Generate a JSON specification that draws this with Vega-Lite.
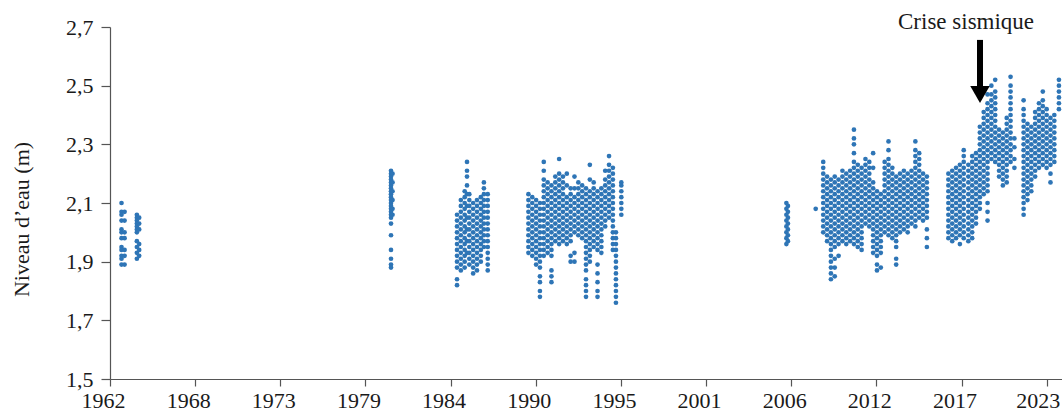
{
"$schema":"https://vega.github.io/schema/vega-lite/v6.json",
"width":952,"height":352,
"autosize":{"type":"none"},
"padding":{"left":110,"top":27,"right":0,"bottom":36},
"background":"white",
"config":{"view":{"stroke":null},"font":"Liberation Serif"},
"layer":[
{"data":{"values":[
{"t":1962.75,"v":2.10},{"t":1962.75,"v":2.07},{"t":1962.75,"v":2.06},{"t":1962.75,"v":2.04},{"t":1962.75,"v":2.01},{"t":1962.75,"v":2.00},{"t":1962.75,"v":1.98},{"t":1962.75,"v":1.95},{"t":1962.75,"v":1.94},{"t":1962.75,"v":1.92},{"t":1962.75,"v":1.91},{"t":1962.75,"v":1.89},
{"t":1962.95,"v":2.07},{"t":1962.95,"v":2.04},{"t":1962.95,"v":2.00},{"t":1962.95,"v":1.98},{"t":1962.95,"v":1.94},{"t":1962.95,"v":1.92},{"t":1962.95,"v":1.89},
{"t":1963.75,"v":2.06},{"t":1963.75,"v":2.05},{"t":1963.75,"v":2.04},{"t":1963.75,"v":2.03},{"t":1963.75,"v":2.02},{"t":1963.75,"v":2.01},{"t":1963.75,"v":2.00},{"t":1963.75,"v":1.97},{"t":1963.75,"v":1.95},{"t":1963.75,"v":1.93},{"t":1963.75,"v":1.91},
{"t":1963.9,"v":2.05},{"t":1963.9,"v":2.03},{"t":1963.9,"v":2.01},{"t":1963.9,"v":1.96},{"t":1963.9,"v":1.94},{"t":1963.9,"v":1.92},
{"t":1980.3,"v":2.21},{"t":1980.3,"v":2.20},{"t":1980.3,"v":2.19},{"t":1980.3,"v":2.18},{"t":1980.3,"v":2.17},{"t":1980.3,"v":2.16},{"t":1980.3,"v":2.15},{"t":1980.3,"v":2.14},{"t":1980.3,"v":2.13},{"t":1980.3,"v":2.12},{"t":1980.3,"v":2.11},{"t":1980.3,"v":2.10},{"t":1980.3,"v":2.09},{"t":1980.3,"v":2.08},{"t":1980.3,"v":2.07},{"t":1980.3,"v":2.06},{"t":1980.3,"v":2.05},{"t":1980.3,"v":2.03},{"t":1980.3,"v":1.99},{"t":1980.3,"v":1.94},{"t":1980.3,"v":1.91},{"t":1980.3,"v":1.89},{"t":1980.3,"v":1.88},
{"t":1980.4,"v":2.20},{"t":1980.4,"v":2.17},{"t":1980.4,"v":2.14},{"t":1980.4,"v":2.11},{"t":1980.4,"v":2.08},{"t":1980.4,"v":2.06},
{"t":1984.6,"v":1.82},{"t":1984.6,"v":1.84},{"t":1984.6,"v":1.88},{"t":1984.6,"v":1.90},{"t":1984.6,"v":1.92},{"t":1984.6,"v":1.94},{"t":1984.6,"v":1.96},{"t":1984.6,"v":1.98},{"t":1984.6,"v":2.00},{"t":1984.6,"v":2.02},{"t":1984.6,"v":2.04},{"t":1984.6,"v":2.06},
{"t":1984.85,"v":1.87},{"t":1984.85,"v":1.89},{"t":1984.85,"v":1.91},{"t":1984.85,"v":1.93},{"t":1984.85,"v":1.95},{"t":1984.85,"v":1.97},{"t":1984.85,"v":1.99},{"t":1984.85,"v":2.01},{"t":1984.85,"v":2.03},{"t":1984.85,"v":2.05},{"t":1984.85,"v":2.07},{"t":1984.85,"v":2.09},{"t":1984.85,"v":2.11},
{"t":1985.1,"v":1.88},{"t":1985.1,"v":1.90},{"t":1985.1,"v":1.92},{"t":1985.1,"v":1.94},{"t":1985.1,"v":1.96},{"t":1985.1,"v":1.98},{"t":1985.1,"v":2.00},{"t":1985.1,"v":2.02},{"t":1985.1,"v":2.04},{"t":1985.1,"v":2.06},{"t":1985.1,"v":2.08},{"t":1985.1,"v":2.10},{"t":1985.1,"v":2.12},{"t":1985.1,"v":2.14},
{"t":1985.25,"v":1.93},{"t":1985.25,"v":1.97},{"t":1985.25,"v":2.01},{"t":1985.25,"v":2.05},{"t":1985.25,"v":2.09},{"t":1985.25,"v":2.13},{"t":1985.25,"v":2.16},{"t":1985.25,"v":2.19},{"t":1985.25,"v":2.21},{"t":1985.25,"v":2.24},
{"t":1985.4,"v":1.89},{"t":1985.4,"v":1.91},{"t":1985.4,"v":1.93},{"t":1985.4,"v":1.95},{"t":1985.4,"v":1.97},{"t":1985.4,"v":1.99},{"t":1985.4,"v":2.01},{"t":1985.4,"v":2.03},{"t":1985.4,"v":2.05},{"t":1985.4,"v":2.07},{"t":1985.4,"v":2.09},{"t":1985.4,"v":2.11},{"t":1985.4,"v":2.13},
{"t":1985.65,"v":1.86},{"t":1985.65,"v":1.88},{"t":1985.65,"v":1.90},{"t":1985.65,"v":1.92},{"t":1985.65,"v":1.94},{"t":1985.65,"v":1.96},{"t":1985.65,"v":1.98},{"t":1985.65,"v":2.00},{"t":1985.65,"v":2.02},{"t":1985.65,"v":2.04},{"t":1985.65,"v":2.06},{"t":1985.65,"v":2.08},{"t":1985.65,"v":2.10},
{"t":1985.9,"v":1.87},{"t":1985.9,"v":1.89},{"t":1985.9,"v":1.91},{"t":1985.9,"v":1.93},{"t":1985.9,"v":1.95},{"t":1985.9,"v":1.97},{"t":1985.9,"v":1.99},{"t":1985.9,"v":2.01},{"t":1985.9,"v":2.03},{"t":1985.9,"v":2.05},{"t":1985.9,"v":2.07},{"t":1985.9,"v":2.09},{"t":1985.9,"v":2.11},
{"t":1986.15,"v":1.90},{"t":1986.15,"v":1.92},{"t":1986.15,"v":1.94},{"t":1986.15,"v":1.96},{"t":1986.15,"v":1.98},{"t":1986.15,"v":2.00},{"t":1986.15,"v":2.02},{"t":1986.15,"v":2.04},{"t":1986.15,"v":2.06},{"t":1986.15,"v":2.08},{"t":1986.15,"v":2.10},{"t":1986.15,"v":2.12},
{"t":1986.35,"v":1.95},{"t":1986.35,"v":1.97},{"t":1986.35,"v":1.99},{"t":1986.35,"v":2.01},{"t":1986.35,"v":2.03},{"t":1986.35,"v":2.05},{"t":1986.35,"v":2.07},{"t":1986.35,"v":2.09},{"t":1986.35,"v":2.11},{"t":1986.35,"v":2.13},{"t":1986.35,"v":2.15},{"t":1986.35,"v":2.17},
{"t":1986.6,"v":1.87},{"t":1986.6,"v":1.89},{"t":1986.6,"v":1.91},{"t":1986.6,"v":1.93},{"t":1986.6,"v":1.95},{"t":1986.6,"v":1.97},{"t":1986.6,"v":1.99},{"t":1986.6,"v":2.01},{"t":1986.6,"v":2.03},{"t":1986.6,"v":2.05},{"t":1986.6,"v":2.07},{"t":1986.6,"v":2.09},{"t":1986.6,"v":2.11},{"t":1986.6,"v":2.13},
{"t":1989.25,"v":1.93},{"t":1989.25,"v":1.95},{"t":1989.25,"v":1.97},{"t":1989.25,"v":1.99},{"t":1989.25,"v":2.01},{"t":1989.25,"v":2.03},{"t":1989.25,"v":2.05},{"t":1989.25,"v":2.07},{"t":1989.25,"v":2.09},{"t":1989.25,"v":2.11},{"t":1989.25,"v":2.13},
{"t":1989.5,"v":1.92},{"t":1989.5,"v":1.94},{"t":1989.5,"v":1.96},{"t":1989.5,"v":1.98},{"t":1989.5,"v":2.00},{"t":1989.5,"v":2.02},{"t":1989.5,"v":2.04},{"t":1989.5,"v":2.06},{"t":1989.5,"v":2.08},{"t":1989.5,"v":2.10},{"t":1989.5,"v":2.12},
{"t":1989.75,"v":1.89},{"t":1989.75,"v":1.91},{"t":1989.75,"v":1.93},{"t":1989.75,"v":1.95},{"t":1989.75,"v":1.97},{"t":1989.75,"v":1.99},{"t":1989.75,"v":2.01},{"t":1989.75,"v":2.03},{"t":1989.75,"v":2.05},{"t":1989.75,"v":2.07},{"t":1989.75,"v":2.09},{"t":1989.75,"v":2.11},
{"t":1990.0,"v":1.78},{"t":1990.0,"v":1.80},{"t":1990.0,"v":1.83},{"t":1990.0,"v":1.85},{"t":1990.0,"v":1.88},{"t":1990.0,"v":1.90},{"t":1990.0,"v":1.92},{"t":1990.0,"v":1.94},{"t":1990.0,"v":1.96},{"t":1990.0,"v":1.98},{"t":1990.0,"v":2.00},{"t":1990.0,"v":2.02},{"t":1990.0,"v":2.04},{"t":1990.0,"v":2.06},{"t":1990.0,"v":2.08},{"t":1990.0,"v":2.10},
{"t":1990.25,"v":1.92},{"t":1990.25,"v":1.94},{"t":1990.25,"v":1.96},{"t":1990.25,"v":1.98},{"t":1990.25,"v":2.00},{"t":1990.25,"v":2.02},{"t":1990.25,"v":2.04},{"t":1990.25,"v":2.06},{"t":1990.25,"v":2.08},{"t":1990.25,"v":2.10},{"t":1990.25,"v":2.12},{"t":1990.25,"v":2.14},{"t":1990.25,"v":2.16},{"t":1990.25,"v":2.18},{"t":1990.25,"v":2.21},{"t":1990.25,"v":2.24},
{"t":1990.5,"v":1.93},{"t":1990.5,"v":1.95},{"t":1990.5,"v":1.97},{"t":1990.5,"v":1.99},{"t":1990.5,"v":2.01},{"t":1990.5,"v":2.03},{"t":1990.5,"v":2.05},{"t":1990.5,"v":2.07},{"t":1990.5,"v":2.09},{"t":1990.5,"v":2.11},{"t":1990.5,"v":2.13},{"t":1990.5,"v":2.15},{"t":1990.5,"v":2.17},
{"t":1990.75,"v":1.83},{"t":1990.75,"v":1.85},{"t":1990.75,"v":1.87},{"t":1990.75,"v":1.92},{"t":1990.75,"v":1.94},{"t":1990.75,"v":1.96},{"t":1990.75,"v":1.98},{"t":1990.75,"v":2.00},{"t":1990.75,"v":2.02},{"t":1990.75,"v":2.04},{"t":1990.75,"v":2.06},{"t":1990.75,"v":2.08},{"t":1990.75,"v":2.10},{"t":1990.75,"v":2.12},{"t":1990.75,"v":2.14},{"t":1990.75,"v":2.16},
{"t":1991.0,"v":1.97},{"t":1991.0,"v":1.99},{"t":1991.0,"v":2.01},{"t":1991.0,"v":2.03},{"t":1991.0,"v":2.05},{"t":1991.0,"v":2.07},{"t":1991.0,"v":2.09},{"t":1991.0,"v":2.11},{"t":1991.0,"v":2.13},{"t":1991.0,"v":2.15},{"t":1991.0,"v":2.17},{"t":1991.0,"v":2.19},
{"t":1991.25,"v":1.96},{"t":1991.25,"v":1.98},{"t":1991.25,"v":2.00},{"t":1991.25,"v":2.02},{"t":1991.25,"v":2.04},{"t":1991.25,"v":2.06},{"t":1991.25,"v":2.08},{"t":1991.25,"v":2.10},{"t":1991.25,"v":2.12},{"t":1991.25,"v":2.14},{"t":1991.25,"v":2.16},{"t":1991.25,"v":2.18},{"t":1991.25,"v":2.20},{"t":1991.25,"v":2.25},
{"t":1991.5,"v":1.97},{"t":1991.5,"v":1.99},{"t":1991.5,"v":2.01},{"t":1991.5,"v":2.03},{"t":1991.5,"v":2.05},{"t":1991.5,"v":2.07},{"t":1991.5,"v":2.09},{"t":1991.5,"v":2.11},{"t":1991.5,"v":2.13},{"t":1991.5,"v":2.15},{"t":1991.5,"v":2.17},{"t":1991.5,"v":2.19},
{"t":1991.75,"v":1.96},{"t":1991.75,"v":1.98},{"t":1991.75,"v":2.00},{"t":1991.75,"v":2.02},{"t":1991.75,"v":2.04},{"t":1991.75,"v":2.06},{"t":1991.75,"v":2.08},{"t":1991.75,"v":2.10},{"t":1991.75,"v":2.12},{"t":1991.75,"v":2.16},{"t":1991.75,"v":2.20},
{"t":1992.0,"v":1.90},{"t":1992.0,"v":1.92},{"t":1992.0,"v":1.97},{"t":1992.0,"v":1.99},{"t":1992.0,"v":2.01},{"t":1992.0,"v":2.03},{"t":1992.0,"v":2.05},{"t":1992.0,"v":2.07},{"t":1992.0,"v":2.09},{"t":1992.0,"v":2.11},{"t":1992.0,"v":2.13},{"t":1992.0,"v":2.15},
{"t":1992.25,"v":1.90},{"t":1992.25,"v":1.93},{"t":1992.25,"v":2.00},{"t":1992.25,"v":2.02},{"t":1992.25,"v":2.04},{"t":1992.25,"v":2.06},{"t":1992.25,"v":2.08},{"t":1992.25,"v":2.10},{"t":1992.25,"v":2.12},{"t":1992.25,"v":2.15},{"t":1992.25,"v":2.19},
{"t":1992.5,"v":1.99},{"t":1992.5,"v":2.01},{"t":1992.5,"v":2.03},{"t":1992.5,"v":2.05},{"t":1992.5,"v":2.07},{"t":1992.5,"v":2.09},{"t":1992.5,"v":2.11},{"t":1992.5,"v":2.13},{"t":1992.5,"v":2.15},{"t":1992.5,"v":2.17},
{"t":1992.75,"v":1.98},{"t":1992.75,"v":2.00},{"t":1992.75,"v":2.02},{"t":1992.75,"v":2.04},{"t":1992.75,"v":2.06},{"t":1992.75,"v":2.08},{"t":1992.75,"v":2.10},{"t":1992.75,"v":2.12},{"t":1992.75,"v":2.14},{"t":1992.75,"v":2.16},
{"t":1993.0,"v":1.78},{"t":1993.0,"v":1.80},{"t":1993.0,"v":1.82},{"t":1993.0,"v":1.84},{"t":1993.0,"v":1.87},{"t":1993.0,"v":1.89},{"t":1993.0,"v":1.91},{"t":1993.0,"v":1.93},{"t":1993.0,"v":1.95},{"t":1993.0,"v":1.97},{"t":1993.0,"v":1.99},{"t":1993.0,"v":2.01},{"t":1993.0,"v":2.03},{"t":1993.0,"v":2.05},{"t":1993.0,"v":2.07},{"t":1993.0,"v":2.09},{"t":1993.0,"v":2.11},{"t":1993.0,"v":2.13},{"t":1993.0,"v":2.15},
{"t":1993.25,"v":1.90},{"t":1993.25,"v":1.92},{"t":1993.25,"v":1.94},{"t":1993.25,"v":1.96},{"t":1993.25,"v":1.98},{"t":1993.25,"v":2.00},{"t":1993.25,"v":2.02},{"t":1993.25,"v":2.04},{"t":1993.25,"v":2.06},{"t":1993.25,"v":2.08},{"t":1993.25,"v":2.10},{"t":1993.25,"v":2.12},{"t":1993.25,"v":2.14},{"t":1993.25,"v":2.18},{"t":1993.25,"v":2.23},
{"t":1993.5,"v":1.95},{"t":1993.5,"v":1.97},{"t":1993.5,"v":1.99},{"t":1993.5,"v":2.01},{"t":1993.5,"v":2.03},{"t":1993.5,"v":2.05},{"t":1993.5,"v":2.07},{"t":1993.5,"v":2.09},{"t":1993.5,"v":2.11},{"t":1993.5,"v":2.13},{"t":1993.5,"v":2.15},{"t":1993.5,"v":2.17},
{"t":1993.75,"v":1.78},{"t":1993.75,"v":1.80},{"t":1993.75,"v":1.83},{"t":1993.75,"v":1.86},{"t":1993.75,"v":1.89},{"t":1993.75,"v":1.94},{"t":1993.75,"v":1.96},{"t":1993.75,"v":1.98},{"t":1993.75,"v":2.00},{"t":1993.75,"v":2.02},{"t":1993.75,"v":2.04},{"t":1993.75,"v":2.06},{"t":1993.75,"v":2.08},{"t":1993.75,"v":2.10},{"t":1993.75,"v":2.12},{"t":1993.75,"v":2.14},
{"t":1994.0,"v":1.93},{"t":1994.0,"v":1.95},{"t":1994.0,"v":1.97},{"t":1994.0,"v":1.99},{"t":1994.0,"v":2.01},{"t":1994.0,"v":2.03},{"t":1994.0,"v":2.05},{"t":1994.0,"v":2.07},{"t":1994.0,"v":2.09},{"t":1994.0,"v":2.11},{"t":1994.0,"v":2.13},{"t":1994.0,"v":2.15},
{"t":1994.25,"v":2.02},{"t":1994.25,"v":2.04},{"t":1994.25,"v":2.06},{"t":1994.25,"v":2.08},{"t":1994.25,"v":2.10},{"t":1994.25,"v":2.12},{"t":1994.25,"v":2.14},{"t":1994.25,"v":2.16},{"t":1994.25,"v":2.18},{"t":1994.25,"v":2.21},
{"t":1994.5,"v":2.05},{"t":1994.5,"v":2.07},{"t":1994.5,"v":2.09},{"t":1994.5,"v":2.11},{"t":1994.5,"v":2.13},{"t":1994.5,"v":2.15},{"t":1994.5,"v":2.17},{"t":1994.5,"v":2.19},{"t":1994.5,"v":2.21},{"t":1994.5,"v":2.23},{"t":1994.5,"v":2.26},
{"t":1994.75,"v":1.94},{"t":1994.75,"v":1.96},{"t":1994.75,"v":1.98},{"t":1994.75,"v":2.00},{"t":1994.75,"v":2.02},{"t":1994.75,"v":2.04},{"t":1994.75,"v":2.06},{"t":1994.75,"v":2.08},{"t":1994.75,"v":2.10},{"t":1994.75,"v":2.12},{"t":1994.75,"v":2.14},{"t":1994.75,"v":2.16},{"t":1994.75,"v":2.18},{"t":1994.75,"v":2.20},{"t":1994.75,"v":2.22},
{"t":1994.95,"v":1.76},{"t":1994.95,"v":1.78},{"t":1994.95,"v":1.80},{"t":1994.95,"v":1.82},{"t":1994.95,"v":1.84},{"t":1994.95,"v":1.86},{"t":1994.95,"v":1.88},{"t":1994.95,"v":1.90},{"t":1994.95,"v":1.92},{"t":1994.95,"v":1.94},{"t":1994.95,"v":1.96},{"t":1994.95,"v":1.98},{"t":1994.95,"v":2.00},
{"t":1995.3,"v":2.06},{"t":1995.3,"v":2.08},{"t":1995.3,"v":2.10},{"t":1995.3,"v":2.12},{"t":1995.3,"v":2.14},{"t":1995.3,"v":2.16},{"t":1995.3,"v":2.17},
{"t":2006.05,"v":1.96},{"t":2006.05,"v":1.98},{"t":2006.05,"v":2.00},{"t":2006.05,"v":2.02},{"t":2006.05,"v":2.04},{"t":2006.05,"v":2.06},{"t":2006.05,"v":2.08},{"t":2006.05,"v":2.10},
{"t":2006.15,"v":1.97},{"t":2006.15,"v":1.99},{"t":2006.15,"v":2.01},{"t":2006.15,"v":2.03},{"t":2006.15,"v":2.05},{"t":2006.15,"v":2.07},{"t":2006.15,"v":2.09},
{"t":2007.96,"v":2.08},
{"t":2008.45,"v":2.00},{"t":2008.45,"v":2.02},{"t":2008.45,"v":2.04},{"t":2008.45,"v":2.06},{"t":2008.45,"v":2.08},{"t":2008.45,"v":2.10},{"t":2008.45,"v":2.12},{"t":2008.45,"v":2.14},{"t":2008.45,"v":2.16},{"t":2008.45,"v":2.18},{"t":2008.45,"v":2.20},{"t":2008.45,"v":2.22},{"t":2008.45,"v":2.24},
{"t":2008.7,"v":1.97},{"t":2008.7,"v":1.99},{"t":2008.7,"v":2.01},{"t":2008.7,"v":2.03},{"t":2008.7,"v":2.05},{"t":2008.7,"v":2.07},{"t":2008.7,"v":2.09},{"t":2008.7,"v":2.11},{"t":2008.7,"v":2.13},{"t":2008.7,"v":2.15},{"t":2008.7,"v":2.17},{"t":2008.7,"v":2.19},
{"t":2008.95,"v":1.84},{"t":2008.95,"v":1.86},{"t":2008.95,"v":1.88},{"t":2008.95,"v":1.90},{"t":2008.95,"v":1.92},{"t":2008.95,"v":1.94},{"t":2008.95,"v":1.96},{"t":2008.95,"v":1.98},{"t":2008.95,"v":2.00},{"t":2008.95,"v":2.02},{"t":2008.95,"v":2.04},{"t":2008.95,"v":2.06},{"t":2008.95,"v":2.08},{"t":2008.95,"v":2.10},{"t":2008.95,"v":2.12},{"t":2008.95,"v":2.14},{"t":2008.95,"v":2.16},{"t":2008.95,"v":2.18},
{"t":2009.2,"v":1.85},{"t":2009.2,"v":1.88},{"t":2009.2,"v":1.91},{"t":2009.2,"v":1.95},{"t":2009.2,"v":1.97},{"t":2009.2,"v":1.99},{"t":2009.2,"v":2.01},{"t":2009.2,"v":2.03},{"t":2009.2,"v":2.05},{"t":2009.2,"v":2.07},{"t":2009.2,"v":2.09},{"t":2009.2,"v":2.11},{"t":2009.2,"v":2.13},{"t":2009.2,"v":2.15},{"t":2009.2,"v":2.17},{"t":2009.2,"v":2.19},
{"t":2009.45,"v":1.92},{"t":2009.45,"v":1.96},{"t":2009.45,"v":1.98},{"t":2009.45,"v":2.00},{"t":2009.45,"v":2.02},{"t":2009.45,"v":2.04},{"t":2009.45,"v":2.06},{"t":2009.45,"v":2.08},{"t":2009.45,"v":2.10},{"t":2009.45,"v":2.12},{"t":2009.45,"v":2.14},{"t":2009.45,"v":2.16},{"t":2009.45,"v":2.18},
{"t":2009.7,"v":1.97},{"t":2009.7,"v":1.99},{"t":2009.7,"v":2.01},{"t":2009.7,"v":2.03},{"t":2009.7,"v":2.05},{"t":2009.7,"v":2.07},{"t":2009.7,"v":2.09},{"t":2009.7,"v":2.11},{"t":2009.7,"v":2.13},{"t":2009.7,"v":2.15},{"t":2009.7,"v":2.17},{"t":2009.7,"v":2.19},{"t":2009.7,"v":2.21},
{"t":2009.95,"v":1.96},{"t":2009.95,"v":1.98},{"t":2009.95,"v":2.00},{"t":2009.95,"v":2.02},{"t":2009.95,"v":2.04},{"t":2009.95,"v":2.06},{"t":2009.95,"v":2.08},{"t":2009.95,"v":2.10},{"t":2009.95,"v":2.12},{"t":2009.95,"v":2.14},{"t":2009.95,"v":2.16},{"t":2009.95,"v":2.18},{"t":2009.95,"v":2.20},
{"t":2010.2,"v":1.97},{"t":2010.2,"v":1.99},{"t":2010.2,"v":2.01},{"t":2010.2,"v":2.03},{"t":2010.2,"v":2.05},{"t":2010.2,"v":2.07},{"t":2010.2,"v":2.09},{"t":2010.2,"v":2.11},{"t":2010.2,"v":2.13},{"t":2010.2,"v":2.15},{"t":2010.2,"v":2.17},{"t":2010.2,"v":2.19},{"t":2010.2,"v":2.21},
{"t":2010.45,"v":1.96},{"t":2010.45,"v":1.98},{"t":2010.45,"v":2.00},{"t":2010.45,"v":2.02},{"t":2010.45,"v":2.04},{"t":2010.45,"v":2.06},{"t":2010.45,"v":2.08},{"t":2010.45,"v":2.10},{"t":2010.45,"v":2.12},{"t":2010.45,"v":2.14},{"t":2010.45,"v":2.16},{"t":2010.45,"v":2.18},{"t":2010.45,"v":2.20},{"t":2010.45,"v":2.22},{"t":2010.45,"v":2.24},{"t":2010.45,"v":2.27},{"t":2010.45,"v":2.30},{"t":2010.45,"v":2.32},{"t":2010.45,"v":2.35},
{"t":2010.7,"v":1.95},{"t":2010.7,"v":1.97},{"t":2010.7,"v":1.99},{"t":2010.7,"v":2.01},{"t":2010.7,"v":2.03},{"t":2010.7,"v":2.05},{"t":2010.7,"v":2.07},{"t":2010.7,"v":2.09},{"t":2010.7,"v":2.11},{"t":2010.7,"v":2.13},{"t":2010.7,"v":2.15},{"t":2010.7,"v":2.17},{"t":2010.7,"v":2.19},{"t":2010.7,"v":2.21},{"t":2010.7,"v":2.23},
{"t":2010.95,"v":1.94},{"t":2010.95,"v":1.96},{"t":2010.95,"v":1.98},{"t":2010.95,"v":2.00},{"t":2010.95,"v":2.02},{"t":2010.95,"v":2.04},{"t":2010.95,"v":2.06},{"t":2010.95,"v":2.08},{"t":2010.95,"v":2.10},{"t":2010.95,"v":2.12},{"t":2010.95,"v":2.14},{"t":2010.95,"v":2.16},{"t":2010.95,"v":2.18},{"t":2010.95,"v":2.20},{"t":2010.95,"v":2.22},
{"t":2011.2,"v":2.03},{"t":2011.2,"v":2.05},{"t":2011.2,"v":2.07},{"t":2011.2,"v":2.09},{"t":2011.2,"v":2.11},{"t":2011.2,"v":2.13},{"t":2011.2,"v":2.15},{"t":2011.2,"v":2.17},{"t":2011.2,"v":2.19},{"t":2011.2,"v":2.21},{"t":2011.2,"v":2.23},{"t":2011.2,"v":2.25},
{"t":2011.45,"v":2.02},{"t":2011.45,"v":2.04},{"t":2011.45,"v":2.06},{"t":2011.45,"v":2.08},{"t":2011.45,"v":2.10},{"t":2011.45,"v":2.12},{"t":2011.45,"v":2.14},{"t":2011.45,"v":2.16},{"t":2011.45,"v":2.18},{"t":2011.45,"v":2.20},{"t":2011.45,"v":2.22},{"t":2011.45,"v":2.24},
{"t":2011.7,"v":1.93},{"t":2011.7,"v":1.95},{"t":2011.7,"v":1.97},{"t":2011.7,"v":1.99},{"t":2011.7,"v":2.01},{"t":2011.7,"v":2.03},{"t":2011.7,"v":2.05},{"t":2011.7,"v":2.07},{"t":2011.7,"v":2.09},{"t":2011.7,"v":2.11},{"t":2011.7,"v":2.13},{"t":2011.7,"v":2.15},{"t":2011.7,"v":2.17},{"t":2011.7,"v":2.22},{"t":2011.7,"v":2.27},
{"t":2011.95,"v":1.87},{"t":2011.95,"v":1.89},{"t":2011.95,"v":1.92},{"t":2011.95,"v":1.94},{"t":2011.95,"v":1.96},{"t":2011.95,"v":1.98},{"t":2011.95,"v":2.00},{"t":2011.95,"v":2.02},{"t":2011.95,"v":2.04},{"t":2011.95,"v":2.06},{"t":2011.95,"v":2.08},{"t":2011.95,"v":2.10},{"t":2011.95,"v":2.12},{"t":2011.95,"v":2.14},
{"t":2012.2,"v":1.88},{"t":2012.2,"v":1.93},{"t":2012.2,"v":1.95},{"t":2012.2,"v":1.97},{"t":2012.2,"v":1.99},{"t":2012.2,"v":2.01},{"t":2012.2,"v":2.03},{"t":2012.2,"v":2.05},{"t":2012.2,"v":2.07},{"t":2012.2,"v":2.09},{"t":2012.2,"v":2.11},{"t":2012.2,"v":2.13},
{"t":2012.45,"v":2.00},{"t":2012.45,"v":2.02},{"t":2012.45,"v":2.04},{"t":2012.45,"v":2.06},{"t":2012.45,"v":2.08},{"t":2012.45,"v":2.10},{"t":2012.45,"v":2.12},{"t":2012.45,"v":2.14},{"t":2012.45,"v":2.16},{"t":2012.45,"v":2.18},{"t":2012.45,"v":2.20},{"t":2012.45,"v":2.22},{"t":2012.45,"v":2.24},
{"t":2012.7,"v":1.99},{"t":2012.7,"v":2.01},{"t":2012.7,"v":2.03},{"t":2012.7,"v":2.05},{"t":2012.7,"v":2.07},{"t":2012.7,"v":2.09},{"t":2012.7,"v":2.11},{"t":2012.7,"v":2.13},{"t":2012.7,"v":2.15},{"t":2012.7,"v":2.17},{"t":2012.7,"v":2.19},{"t":2012.7,"v":2.21},{"t":2012.7,"v":2.23},{"t":2012.7,"v":2.25},{"t":2012.7,"v":2.28},{"t":2012.7,"v":2.31},
{"t":2012.95,"v":1.98},{"t":2012.95,"v":2.00},{"t":2012.95,"v":2.02},{"t":2012.95,"v":2.04},{"t":2012.95,"v":2.06},{"t":2012.95,"v":2.08},{"t":2012.95,"v":2.10},{"t":2012.95,"v":2.12},{"t":2012.95,"v":2.14},{"t":2012.95,"v":2.16},{"t":2012.95,"v":2.18},{"t":2012.95,"v":2.20},{"t":2012.95,"v":2.22},
{"t":2013.2,"v":1.89},{"t":2013.2,"v":1.91},{"t":2013.2,"v":1.95},{"t":2013.2,"v":1.97},{"t":2013.2,"v":1.99},{"t":2013.2,"v":2.01},{"t":2013.2,"v":2.03},{"t":2013.2,"v":2.05},{"t":2013.2,"v":2.07},{"t":2013.2,"v":2.09},{"t":2013.2,"v":2.11},{"t":2013.2,"v":2.13},{"t":2013.2,"v":2.15},{"t":2013.2,"v":2.17},{"t":2013.2,"v":2.19},
{"t":2013.45,"v":2.00},{"t":2013.45,"v":2.02},{"t":2013.45,"v":2.04},{"t":2013.45,"v":2.06},{"t":2013.45,"v":2.08},{"t":2013.45,"v":2.10},{"t":2013.45,"v":2.12},{"t":2013.45,"v":2.14},{"t":2013.45,"v":2.16},{"t":2013.45,"v":2.18},{"t":2013.45,"v":2.20},
{"t":2013.7,"v":2.01},{"t":2013.7,"v":2.03},{"t":2013.7,"v":2.05},{"t":2013.7,"v":2.07},{"t":2013.7,"v":2.09},{"t":2013.7,"v":2.11},{"t":2013.7,"v":2.13},{"t":2013.7,"v":2.15},{"t":2013.7,"v":2.17},{"t":2013.7,"v":2.19},{"t":2013.7,"v":2.21},
{"t":2013.95,"v":2.00},{"t":2013.95,"v":2.02},{"t":2013.95,"v":2.04},{"t":2013.95,"v":2.06},{"t":2013.95,"v":2.08},{"t":2013.95,"v":2.10},{"t":2013.95,"v":2.12},{"t":2013.95,"v":2.14},{"t":2013.95,"v":2.16},{"t":2013.95,"v":2.18},{"t":2013.95,"v":2.20},
{"t":2014.2,"v":2.03},{"t":2014.2,"v":2.05},{"t":2014.2,"v":2.07},{"t":2014.2,"v":2.09},{"t":2014.2,"v":2.11},{"t":2014.2,"v":2.13},{"t":2014.2,"v":2.15},{"t":2014.2,"v":2.17},{"t":2014.2,"v":2.19},{"t":2014.2,"v":2.21},
{"t":2014.45,"v":2.02},{"t":2014.45,"v":2.04},{"t":2014.45,"v":2.06},{"t":2014.45,"v":2.08},{"t":2014.45,"v":2.10},{"t":2014.45,"v":2.12},{"t":2014.45,"v":2.14},{"t":2014.45,"v":2.16},{"t":2014.45,"v":2.18},{"t":2014.45,"v":2.20},{"t":2014.45,"v":2.22},{"t":2014.45,"v":2.24},{"t":2014.45,"v":2.26},{"t":2014.45,"v":2.28},{"t":2014.45,"v":2.31},
{"t":2014.7,"v":2.05},{"t":2014.7,"v":2.07},{"t":2014.7,"v":2.09},{"t":2014.7,"v":2.11},{"t":2014.7,"v":2.13},{"t":2014.7,"v":2.15},{"t":2014.7,"v":2.17},{"t":2014.7,"v":2.19},{"t":2014.7,"v":2.21},{"t":2014.7,"v":2.23},{"t":2014.7,"v":2.25},{"t":2014.7,"v":2.27},
{"t":2014.95,"v":2.04},{"t":2014.95,"v":2.06},{"t":2014.95,"v":2.08},{"t":2014.95,"v":2.10},{"t":2014.95,"v":2.12},{"t":2014.95,"v":2.14},{"t":2014.95,"v":2.16},{"t":2014.95,"v":2.18},{"t":2014.95,"v":2.20},
{"t":2015.2,"v":1.95},{"t":2015.2,"v":1.98},{"t":2015.2,"v":2.01},{"t":2015.2,"v":2.05},{"t":2015.2,"v":2.07},{"t":2015.2,"v":2.09},{"t":2015.2,"v":2.11},{"t":2015.2,"v":2.13},{"t":2015.2,"v":2.15},{"t":2015.2,"v":2.17},{"t":2015.2,"v":2.19},
{"t":2016.6,"v":1.98},{"t":2016.6,"v":2.00},{"t":2016.6,"v":2.02},{"t":2016.6,"v":2.04},{"t":2016.6,"v":2.06},{"t":2016.6,"v":2.08},{"t":2016.6,"v":2.10},{"t":2016.6,"v":2.12},{"t":2016.6,"v":2.14},{"t":2016.6,"v":2.16},{"t":2016.6,"v":2.18},{"t":2016.6,"v":2.20},
{"t":2016.85,"v":1.97},{"t":2016.85,"v":1.99},{"t":2016.85,"v":2.01},{"t":2016.85,"v":2.03},{"t":2016.85,"v":2.05},{"t":2016.85,"v":2.07},{"t":2016.85,"v":2.09},{"t":2016.85,"v":2.11},{"t":2016.85,"v":2.13},{"t":2016.85,"v":2.15},{"t":2016.85,"v":2.17},{"t":2016.85,"v":2.19},{"t":2016.85,"v":2.21},
{"t":2017.1,"v":1.98},{"t":2017.1,"v":2.00},{"t":2017.1,"v":2.02},{"t":2017.1,"v":2.04},{"t":2017.1,"v":2.06},{"t":2017.1,"v":2.08},{"t":2017.1,"v":2.10},{"t":2017.1,"v":2.12},{"t":2017.1,"v":2.14},{"t":2017.1,"v":2.16},{"t":2017.1,"v":2.18},{"t":2017.1,"v":2.20},{"t":2017.1,"v":2.22},
{"t":2017.35,"v":1.96},{"t":2017.35,"v":1.99},{"t":2017.35,"v":2.01},{"t":2017.35,"v":2.03},{"t":2017.35,"v":2.05},{"t":2017.35,"v":2.07},{"t":2017.35,"v":2.09},{"t":2017.35,"v":2.11},{"t":2017.35,"v":2.13},{"t":2017.35,"v":2.15},{"t":2017.35,"v":2.17},{"t":2017.35,"v":2.19},{"t":2017.35,"v":2.21},{"t":2017.35,"v":2.23},
{"t":2017.6,"v":1.98},{"t":2017.6,"v":2.00},{"t":2017.6,"v":2.02},{"t":2017.6,"v":2.04},{"t":2017.6,"v":2.06},{"t":2017.6,"v":2.08},{"t":2017.6,"v":2.10},{"t":2017.6,"v":2.12},{"t":2017.6,"v":2.14},{"t":2017.6,"v":2.16},{"t":2017.6,"v":2.18},{"t":2017.6,"v":2.20},{"t":2017.6,"v":2.22},{"t":2017.6,"v":2.24},{"t":2017.6,"v":2.26},{"t":2017.6,"v":2.28},
{"t":2017.9,"v":1.97},{"t":2017.9,"v":1.99},{"t":2017.9,"v":2.01},{"t":2017.9,"v":2.03},{"t":2017.9,"v":2.05},{"t":2017.9,"v":2.07},{"t":2017.9,"v":2.09},{"t":2017.9,"v":2.11},{"t":2017.9,"v":2.13},{"t":2017.9,"v":2.15},{"t":2017.9,"v":2.17},{"t":2017.9,"v":2.19},{"t":2017.9,"v":2.21},{"t":2017.9,"v":2.23},
{"t":2018.15,"v":1.98},{"t":2018.15,"v":2.00},{"t":2018.15,"v":2.02},{"t":2018.15,"v":2.04},{"t":2018.15,"v":2.06},{"t":2018.15,"v":2.08},{"t":2018.15,"v":2.10},{"t":2018.15,"v":2.12},{"t":2018.15,"v":2.14},{"t":2018.15,"v":2.16},{"t":2018.15,"v":2.18},{"t":2018.15,"v":2.20},{"t":2018.15,"v":2.22},{"t":2018.15,"v":2.24},{"t":2018.15,"v":2.26},
{"t":2018.4,"v":2.03},{"t":2018.4,"v":2.05},{"t":2018.4,"v":2.07},{"t":2018.4,"v":2.09},{"t":2018.4,"v":2.11},{"t":2018.4,"v":2.13},{"t":2018.4,"v":2.15},{"t":2018.4,"v":2.17},{"t":2018.4,"v":2.19},{"t":2018.4,"v":2.21},{"t":2018.4,"v":2.23},{"t":2018.4,"v":2.25},{"t":2018.4,"v":2.27},
{"t":2018.65,"v":2.08},{"t":2018.65,"v":2.10},{"t":2018.65,"v":2.12},{"t":2018.65,"v":2.14},{"t":2018.65,"v":2.16},{"t":2018.65,"v":2.18},{"t":2018.65,"v":2.20},{"t":2018.65,"v":2.22},{"t":2018.65,"v":2.24},{"t":2018.65,"v":2.26},{"t":2018.65,"v":2.28},{"t":2018.65,"v":2.30},{"t":2018.65,"v":2.32},{"t":2018.65,"v":2.34},{"t":2018.65,"v":2.36},
{"t":2018.9,"v":2.13},{"t":2018.9,"v":2.15},{"t":2018.9,"v":2.17},{"t":2018.9,"v":2.19},{"t":2018.9,"v":2.21},{"t":2018.9,"v":2.23},{"t":2018.9,"v":2.25},{"t":2018.9,"v":2.27},{"t":2018.9,"v":2.29},{"t":2018.9,"v":2.31},{"t":2018.9,"v":2.33},{"t":2018.9,"v":2.35},{"t":2018.9,"v":2.37},{"t":2018.9,"v":2.39},{"t":2018.9,"v":2.41},
{"t":2019.15,"v":2.04},{"t":2019.15,"v":2.07},{"t":2019.15,"v":2.10},{"t":2019.15,"v":2.14},{"t":2019.15,"v":2.16},{"t":2019.15,"v":2.18},{"t":2019.15,"v":2.20},{"t":2019.15,"v":2.22},{"t":2019.15,"v":2.24},{"t":2019.15,"v":2.26},{"t":2019.15,"v":2.28},{"t":2019.15,"v":2.30},{"t":2019.15,"v":2.32},{"t":2019.15,"v":2.34},{"t":2019.15,"v":2.36},{"t":2019.15,"v":2.38},{"t":2019.15,"v":2.40},{"t":2019.15,"v":2.42},{"t":2019.15,"v":2.44},{"t":2019.15,"v":2.47},
{"t":2019.4,"v":2.25},{"t":2019.4,"v":2.27},{"t":2019.4,"v":2.29},{"t":2019.4,"v":2.31},{"t":2019.4,"v":2.33},{"t":2019.4,"v":2.35},{"t":2019.4,"v":2.37},{"t":2019.4,"v":2.39},{"t":2019.4,"v":2.41},{"t":2019.4,"v":2.43},{"t":2019.4,"v":2.45},{"t":2019.4,"v":2.47},{"t":2019.4,"v":2.50},
{"t":2019.65,"v":2.24},{"t":2019.65,"v":2.26},{"t":2019.65,"v":2.28},{"t":2019.65,"v":2.30},{"t":2019.65,"v":2.32},{"t":2019.65,"v":2.34},{"t":2019.65,"v":2.36},{"t":2019.65,"v":2.38},{"t":2019.65,"v":2.40},{"t":2019.65,"v":2.42},{"t":2019.65,"v":2.44},{"t":2019.65,"v":2.46},{"t":2019.65,"v":2.48},{"t":2019.65,"v":2.52},
{"t":2019.9,"v":2.19},{"t":2019.9,"v":2.21},{"t":2019.9,"v":2.23},{"t":2019.9,"v":2.25},{"t":2019.9,"v":2.27},{"t":2019.9,"v":2.29},{"t":2019.9,"v":2.31},{"t":2019.9,"v":2.33},{"t":2019.9,"v":2.35},
{"t":2020.15,"v":2.16},{"t":2020.15,"v":2.18},{"t":2020.15,"v":2.20},{"t":2020.15,"v":2.22},{"t":2020.15,"v":2.24},{"t":2020.15,"v":2.26},{"t":2020.15,"v":2.28},{"t":2020.15,"v":2.30},{"t":2020.15,"v":2.32},{"t":2020.15,"v":2.34},
{"t":2020.4,"v":2.17},{"t":2020.4,"v":2.19},{"t":2020.4,"v":2.21},{"t":2020.4,"v":2.23},{"t":2020.4,"v":2.25},{"t":2020.4,"v":2.27},{"t":2020.4,"v":2.29},{"t":2020.4,"v":2.31},{"t":2020.4,"v":2.33},{"t":2020.4,"v":2.35},{"t":2020.4,"v":2.37},{"t":2020.4,"v":2.39},
{"t":2020.65,"v":2.24},{"t":2020.65,"v":2.26},{"t":2020.65,"v":2.28},{"t":2020.65,"v":2.30},{"t":2020.65,"v":2.32},{"t":2020.65,"v":2.34},{"t":2020.65,"v":2.36},{"t":2020.65,"v":2.38},{"t":2020.65,"v":2.40},{"t":2020.65,"v":2.42},{"t":2020.65,"v":2.44},{"t":2020.65,"v":2.46},{"t":2020.65,"v":2.48},{"t":2020.65,"v":2.50},{"t":2020.65,"v":2.53},
{"t":2020.9,"v":2.22},{"t":2020.9,"v":2.25},{"t":2020.9,"v":2.29},{"t":2020.9,"v":2.32},
{"t":2021.5,"v":2.06},{"t":2021.5,"v":2.08},{"t":2021.5,"v":2.10},{"t":2021.5,"v":2.12},{"t":2021.5,"v":2.14},{"t":2021.5,"v":2.16},{"t":2021.5,"v":2.18},{"t":2021.5,"v":2.20},{"t":2021.5,"v":2.22},{"t":2021.5,"v":2.24},{"t":2021.5,"v":2.26},{"t":2021.5,"v":2.28},{"t":2021.5,"v":2.30},{"t":2021.5,"v":2.32},{"t":2021.5,"v":2.34},{"t":2021.5,"v":2.36},{"t":2021.5,"v":2.38},{"t":2021.5,"v":2.40},{"t":2021.5,"v":2.42},{"t":2021.5,"v":2.45},
{"t":2021.75,"v":2.11},{"t":2021.75,"v":2.13},{"t":2021.75,"v":2.15},{"t":2021.75,"v":2.17},{"t":2021.75,"v":2.19},{"t":2021.75,"v":2.21},{"t":2021.75,"v":2.23},{"t":2021.75,"v":2.25},{"t":2021.75,"v":2.27},{"t":2021.75,"v":2.29},{"t":2021.75,"v":2.31},{"t":2021.75,"v":2.33},{"t":2021.75,"v":2.35},{"t":2021.75,"v":2.37},
{"t":2022.0,"v":2.14},{"t":2022.0,"v":2.16},{"t":2022.0,"v":2.18},{"t":2022.0,"v":2.20},{"t":2022.0,"v":2.22},{"t":2022.0,"v":2.24},{"t":2022.0,"v":2.26},{"t":2022.0,"v":2.28},{"t":2022.0,"v":2.30},{"t":2022.0,"v":2.32},{"t":2022.0,"v":2.34},{"t":2022.0,"v":2.36},
{"t":2022.25,"v":2.19},{"t":2022.25,"v":2.21},{"t":2022.25,"v":2.23},{"t":2022.25,"v":2.25},{"t":2022.25,"v":2.27},{"t":2022.25,"v":2.29},{"t":2022.25,"v":2.31},{"t":2022.25,"v":2.33},{"t":2022.25,"v":2.35},{"t":2022.25,"v":2.37},{"t":2022.25,"v":2.39},{"t":2022.25,"v":2.41},
{"t":2022.5,"v":2.22},{"t":2022.5,"v":2.24},{"t":2022.5,"v":2.26},{"t":2022.5,"v":2.28},{"t":2022.5,"v":2.30},{"t":2022.5,"v":2.32},{"t":2022.5,"v":2.34},{"t":2022.5,"v":2.36},{"t":2022.5,"v":2.38},{"t":2022.5,"v":2.40},{"t":2022.5,"v":2.42},{"t":2022.5,"v":2.44},
{"t":2022.75,"v":2.23},{"t":2022.75,"v":2.25},{"t":2022.75,"v":2.27},{"t":2022.75,"v":2.29},{"t":2022.75,"v":2.31},{"t":2022.75,"v":2.33},{"t":2022.75,"v":2.35},{"t":2022.75,"v":2.37},{"t":2022.75,"v":2.39},{"t":2022.75,"v":2.41},{"t":2022.75,"v":2.43},{"t":2022.75,"v":2.45},{"t":2022.75,"v":2.48},
{"t":2023.0,"v":2.22},{"t":2023.0,"v":2.24},{"t":2023.0,"v":2.26},{"t":2023.0,"v":2.28},{"t":2023.0,"v":2.30},{"t":2023.0,"v":2.32},{"t":2023.0,"v":2.34},{"t":2023.0,"v":2.36},{"t":2023.0,"v":2.38},{"t":2023.0,"v":2.40},{"t":2023.0,"v":2.42},
{"t":2023.25,"v":2.17},{"t":2023.25,"v":2.20},{"t":2023.25,"v":2.23},{"t":2023.25,"v":2.25},{"t":2023.25,"v":2.27},{"t":2023.25,"v":2.29},{"t":2023.25,"v":2.31},{"t":2023.25,"v":2.33},{"t":2023.25,"v":2.35},{"t":2023.25,"v":2.37},{"t":2023.25,"v":2.39},
{"t":2023.5,"v":2.24},{"t":2023.5,"v":2.26},{"t":2023.5,"v":2.28},{"t":2023.5,"v":2.30},{"t":2023.5,"v":2.32},{"t":2023.5,"v":2.34},{"t":2023.5,"v":2.36},{"t":2023.5,"v":2.38},{"t":2023.5,"v":2.40},
{"t":2023.8,"v":2.42},{"t":2023.8,"v":2.44},{"t":2023.8,"v":2.46},{"t":2023.8,"v":2.48},{"t":2023.8,"v":2.50},{"t":2023.8,"v":2.52}
]},
"mark":{"type":"circle","size":22,"opacity":1,"color":"#2e75b6"},
"encoding":{
"x":{"field":"t","type":"quantitative","scale":{"domain":[1962,2024],"nice":false,"zero":false},
"axis":{"title":null,"grid":false,"values":[1962,1967.545,1973.091,1978.636,1984.182,1989.727,1995.273,2000.818,2006.364,2011.909,2017.455,2023],"labelExpr":"format(round(datum.value),'d')","labelFont":"Liberation Serif","labelFontSize":22,"labelColor":"#1a1a1a","labelPadding":4,"labelFlush":false,"labelOverlap":false,"labelBound":false,"labelOffset":{"expr":"datum.value > 2022 ? -9 : -7"},"tickSize":7,"tickColor":"#555555","domainColor":"#555555","domainWidth":1.2,"tickWidth":1.2}},
"y":{"field":"v","type":"quantitative","scale":{"domain":[1.5,2.7],"nice":false,"zero":false},
"axis":{"title":"Niveau d’eau (m)","grid":false,"values":[1.5,1.7,1.9,2.1,2.3,2.5,2.7],"labelExpr":"replace(format(datum.value,'.1f'),'.',',')","labelFont":"Liberation Serif","labelFontSize":22,"labelColor":"#1a1a1a","labelPadding":8,"tickSize":9,"tickColor":"#555555","domainColor":"#555555","domainWidth":1.2,"tickWidth":1.2,"titleFont":"Liberation Serif","titleFontSize":22,"titleFontWeight":"normal","titleColor":"#1a1a1a","titleAngle":270,"titleX":-89,"titleY":192,"titleAlign":"center","titleBaseline":"middle"}}
}},
{"data":{"values":[{}]},
"mark":{"type":"rule","color":"black","strokeWidth":6},
"encoding":{"x":{"datum":2018.66,"type":"quantitative"},"y":{"datum":2.656,"type":"quantitative"},"y2":{"datum":2.49}}},
{"data":{"values":[{}]},
"mark":{"type":"point","shape":"triangle-down","filled":true,"color":"black","opacity":1,"size":380},
"encoding":{"x":{"datum":2018.66,"type":"quantitative"},"y":{"datum":2.47,"type":"quantitative"}}},
{"data":{"values":[{}]},
"mark":{"type":"text","text":"Crise sismique","font":"Liberation Serif","fontSize":23,"color":"#1a1a1a","align":"center","baseline":"alphabetic"},
"encoding":{"x":{"datum":2017.75,"type":"quantitative"},"y":{"datum":2.693,"type":"quantitative"}}}
]
}
